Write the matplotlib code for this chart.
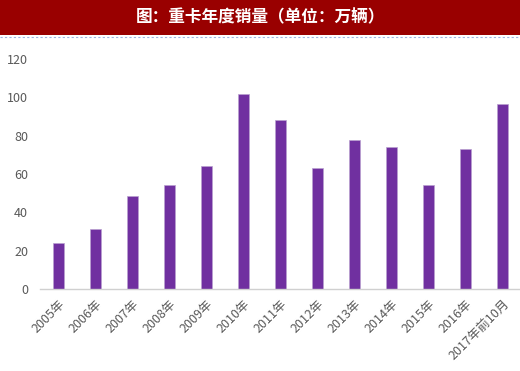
import matplotlib.pyplot as plt
from matplotlib.patches import Rectangle
from matplotlib.lines import Line2D

plt.rcParams['font.family'] = ['Noto Sans CJK SC', 'DejaVu Sans']

# 重卡年度销量 (万辆)
years = ['2005年', '2006年', '2007年', '2008年', '2009年', '2010年', '2011年',
         '2012年', '2013年', '2014年', '2015年', '2016年', '2017年前10月']
sales = [24, 31.5, 48.4, 54.3, 64, 102, 88, 63.3, 78, 74.3, 54.3, 73, 96.5]
yticks = [0, 20, 40, 60, 80, 100, 120]

W, H = 520, 371
fig = plt.figure(figsize=(W / 100, H / 100), dpi=100)

# header band
fig.add_artist(Rectangle((0, 1 - 35 / H), 1, 35 / H, transform=fig.transFigure,
                         facecolor='#990000', edgecolor='none'))
fig.add_artist(Line2D([0, 1], [1 - 36.5 / H, 1 - 36.5 / H], transform=fig.transFigure,
                      color='#9db4e0', linestyle=(0, (2, 2)), linewidth=0.8))
fig.text(0.5, 1 - 17 / H, '图：重卡年度销量（单位：万辆）', color='white',
         fontsize=12, fontweight='bold', ha='center', va='center')

ax = fig.add_axes([40 / W, 1 - 289 / H, 1 - 40 / W, (289 - 59) / H])
x = list(range(len(years)))
ax.bar(x, sales, width=0.3, color='#7030a0', edgecolor='#b9a0d0', linewidth=0.5)

ax.set_xlim(-0.5, 12.47)
ax.set_ylim(0, 120)
ax.set_yticks(yticks)
ax.set_xticks(x)
ax.set_xticklabels(years, rotation=45, ha='right', rotation_mode='anchor')
ax.tick_params(axis='both', length=0, colors='#595959', labelsize=9)
ax.tick_params(axis='y', pad=8.5)
ax.tick_params(axis='x', pad=6)

for s in ['top', 'right', 'left']:
    ax.spines[s].set_visible(False)
ax.spines['bottom'].set_color('#d0d0d0')
ax.spines['bottom'].set_linewidth(1)

fig.savefig('out.png', dpi=100)
